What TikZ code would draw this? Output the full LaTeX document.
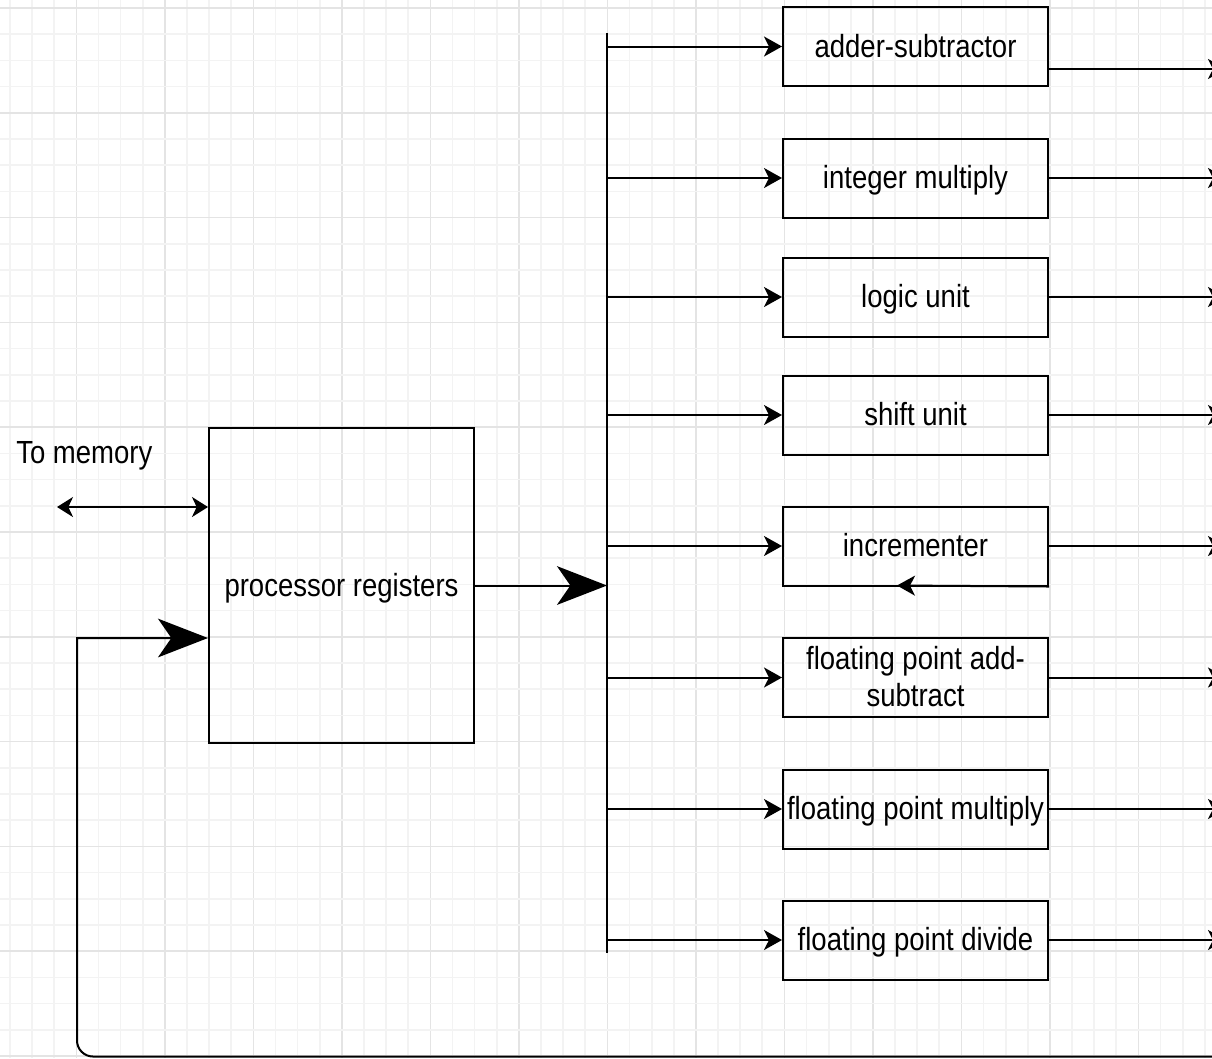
\documentclass[tikz,border=0pt]{standalone}
\usepackage{fontspec}
\usetikzlibrary{arrows.meta}
\newfontfamily\diafont[FakeStretch=0.86]{Liberation Sans}
\definecolor{gridminor}{HTML}{F3F3F3}
\definecolor{gridmajor}{HTML}{E4E4E4}
\begin{document}
\begin{tikzpicture}[x=0.75pt,y=-0.75pt,
  lbl/.style={font=\diafont\fontsize{24}{27.75}\selectfont, text=black},
  box/.style={draw, line width=1.5pt, minimum width=198.75pt, inner sep=0pt, align=center,
    text height=17pt, text depth=1.2pt, lbl},
  unitbox/.style={box, minimum height=59.25pt},
  wire/.style={line width=1.5pt, line cap=butt},
  feedarrow/.style={wire, -{Stealth[length=13.5pt,width=15pt,inset=3.75pt]}},
  memarrow/.style={wire, {Stealth[length=12pt,width=15pt,inset=3.5pt]}-{Stealth[length=12pt,width=15pt,inset=3.5pt]}},
  bigarrow/.style={wire, -{Stealth[length=37.5pt,width=29pt,inset=10pt]}},
]
\useasboundingbox (0,0) rectangle (1212,1058);
\clip (0,0) rectangle (1212,1058);
\fill[white] (0,0) rectangle (1212,1058);

% background grid: minor lines, then every fourth line darker
\foreach \k in {0,...,54}{
  \pgfmathtruncatemacro{\m}{mod(\k,4)}
  \ifnum\m=3
    \draw[gridmajor, line width=1.3pt] ({10+22.125*\k},0) -- ({10+22.125*\k},1058);
  \else
    \draw[gridminor, line width=1.3pt] ({10+22.125*\k},0) -- ({10+22.125*\k},1058);
  \fi
}
\foreach \k in {0,...,40}{
  \pgfmathtruncatemacro{\m}{mod(\k,4)}
  \ifnum\m=0
    \draw[gridmajor, line width=1.3pt] (0,{8+26.2*\k}) -- (1212,{8+26.2*\k});
  \else
    \draw[gridminor, line width=1.3pt] (0,{8+26.2*\k}) -- (1212,{8+26.2*\k});
  \fi
}

% register file
\node[box, minimum height=236.25pt] (proc) at (341.5,585.5) {processor registers};
\node[lbl, anchor=base west, inner sep=0pt] (tomem) at (16,463) {To memory};

% functional units
\node[unitbox] (u1) at (915.5,46.5) {adder-subtractor};
\node[unitbox] (u2) at (915.5,178) {integer multiply};
\node[unitbox] (u3) at (915.5,297) {logic unit};
\node[unitbox] (u4) at (915.5,415) {shift unit};
\node[unitbox] (u5) at (915.5,546) {incrementer};
\node[unitbox, text height=44.75pt] (u6) at (915.5,677.5) {floating point add-\\subtract};
\node[unitbox] (u7) at (915.5,809) {floating point multiply};
\node[unitbox] (u8) at (915.5,940) {floating point divide};

% distribution bus
\coordinate (bustop) at (607,33);
\coordinate (busbot) at (607,953);
\coordinate (busin) at (607,585.5);
\draw[wire] (bustop) -- (busbot);
\draw[bigarrow] (proc.east) -- (busin);
\foreach \u in {u1,u2,u3,u4,u5,u6,u7,u8}
  \draw[feedarrow] (bustop |- \u.west) -- (\u.west);

% unit outputs
\coordinate (o1) at (1226,69);
\draw[feedarrow] (u1.east |- o1) -- (o1);
\foreach \u in {u2,u3,u4,u5,u6,u7,u8}{
  \coordinate (o\u) at (1226,0 |- \u.east);
  \draw[feedarrow] (\u.east) -- (o\u);
}

% incrementer marker on its lower edge
\coordinate (incr) at (897,585.5);
\draw[feedarrow] (u5.south east) -- (incr);

% memory port
\coordinate (mem) at (57,507);
\draw[memarrow] (mem) -- (proc.west |- mem);

% result feedback into the registers
\coordinate (fbin) at (1226,1056.5);
\coordinate (fbcorner) at (77,1056.5);
\coordinate (fbup) at (77,638);
\draw[bigarrow] (fbin) [rounded corners=12pt] -- (fbcorner) [sharp corners] -- (fbup) -- (proc.west |- fbup);
\end{tikzpicture}
\end{document}
